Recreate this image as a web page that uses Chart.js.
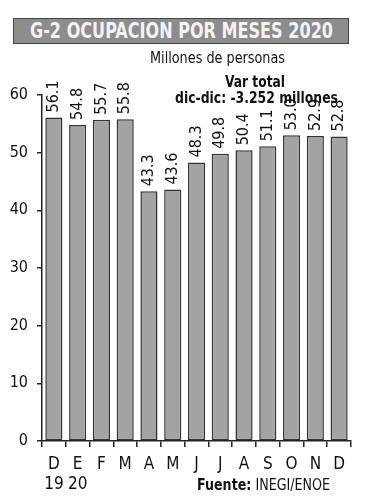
<!DOCTYPE html>
<html>
<head>
<meta charset="utf-8">
<script src="https://cdn.jsdelivr.net/npm/chart.js@4/dist/chart.umd.min.js"></script>
<style>
  body { margin: 0; background: #fff; }
  #wrap { position: relative; width: 372px; height: 500px; overflow: hidden; font-family: "DejaVu Sans Condensed", "Liberation Sans", sans-serif; color: #111; }
  #chart { position: absolute; left: 0; top: 0; }
  .txt { position: absolute; white-space: nowrap; transform-origin: 0 0; }
  #titlebox { position: absolute; left: 13px; top: 18px; width: 334px; height: 24px; background: #8d8d8d; border: 1.5px solid #444; }
  #title { left: 30px; top: 19px; color: #f3f3f3; font-weight: bold; font-size: 22px; line-height: 24px; }
  #sub { left: 150px; top: 48px; font-size: 16px; }
  #var1 { left: 225px; top: 72px; font-size: 16px; font-weight: bold; }
  #var2 { left: 175px; top: 88px; font-size: 16px; font-weight: bold; }
  #src { left: 197px; top: 475px; font-size: 16px; }
</style>
</head>
<body>
<div id="wrap">
  <canvas id="chart" width="372" height="500"></canvas>
  <div id="titlebox"></div>
  <div class="txt" id="title" data-w="303">G-2 OCUPACION POR MESES 2020</div>
  <div class="txt" id="sub" data-w="135">Millones de personas</div>
  <div class="txt" id="var1" data-w="60">Var total</div>
  <div class="txt" id="var2" data-w="163">dic-dic: -3.252 millones</div>
  <div class="txt" id="src" data-w="133"><b>Fuente:</b> INEGI/ENOE</div>
</div>
<script>
// data
const months = [['D', '19'], ['E', '20'], 'F', 'M', 'A', 'M', 'J', 'J', 'A', 'S', 'O', 'N', 'D'];
const ocupados = [56.1, 54.8, 55.7, 55.8, 43.3, 43.6, 48.3, 49.8, 50.4, 51.1, 53.0, 52.9, 52.8];
const yTicks = [0, 10, 20, 30, 40, 50, 60];

const fontFamily = '"DejaVu Sans Condensed", "Liberation Sans", sans-serif';

// squeeze html text to the narrow look of the original
document.querySelectorAll('.txt').forEach(el => {
    const w = el.getBoundingClientRect().width;
    const target = +el.dataset.w;
    el.style.transform = 'scaleX(' + (target / w) + ')';
});

// rotated value labels above each bar
const barLabels = {
    id: 'barLabels',
    afterDatasetsDraw(chart) {
        const ctx = chart.ctx;
        const meta = chart.getDatasetMeta(0);
        ctx.save();
        ctx.fillStyle = '#111';
        ctx.font = '16px ' + fontFamily;
        ctx.textAlign = 'left';
        ctx.textBaseline = 'middle';
        meta.data.forEach((bar, i) => {
            ctx.save();
            ctx.translate(bar.x, bar.y - 5);
            ctx.rotate(-Math.PI / 2);
            ctx.fillText(ocupados[i].toFixed(1), 0, 0);
            ctx.restore();
        });
        ctx.restore();
    }
};

new Chart(document.getElementById('chart'), {
    type: 'bar',
    data: {
        labels: months,
        datasets: [{
            data: ocupados,
            backgroundColor: '#a3a3a3',
            borderColor: '#333',
            borderWidth: 1.5,
            borderSkipped: false,
            barPercentage: 0.72,
            categoryPercentage: 1
        }]
    },
    options: {
        responsive: false,
        animation: false,
        layout: { padding: { top: 95, left: 4, right: 21, bottom: 0 } },
        plugins: { legend: { display: false }, tooltip: { enabled: false } },
        scales: {
            x: {
                offset: true,
                border: { color: '#222', width: 1.5 },
                grid: { display: true, drawOnChartArea: false, offset: true, color: '#222', lineWidth: 1.5, tickLength: 6 },
                ticks: { color: '#111', font: { family: fontFamily, size: 17 }, padding: 7, maxRotation: 0, autoSkip: false },
                afterFit(s) { s.height = 59; }
            },
            y: {
                min: 0, max: 60,
                border: { color: '#222', width: 1.5 },
                grid: { display: true, drawOnChartArea: false, color: '#222', lineWidth: 1.5, tickLength: 5 },
                afterBuildTicks(s) { s.ticks = yTicks.map(v => ({ value: v })); },
                ticks: { color: '#111', font: { family: fontFamily, size: 16 }, padding: 9 },
                afterFit(s) { s.width = 38; }
            }
        }
    },
    plugins: [barLabels]
});
</script>
</body>
</html>
